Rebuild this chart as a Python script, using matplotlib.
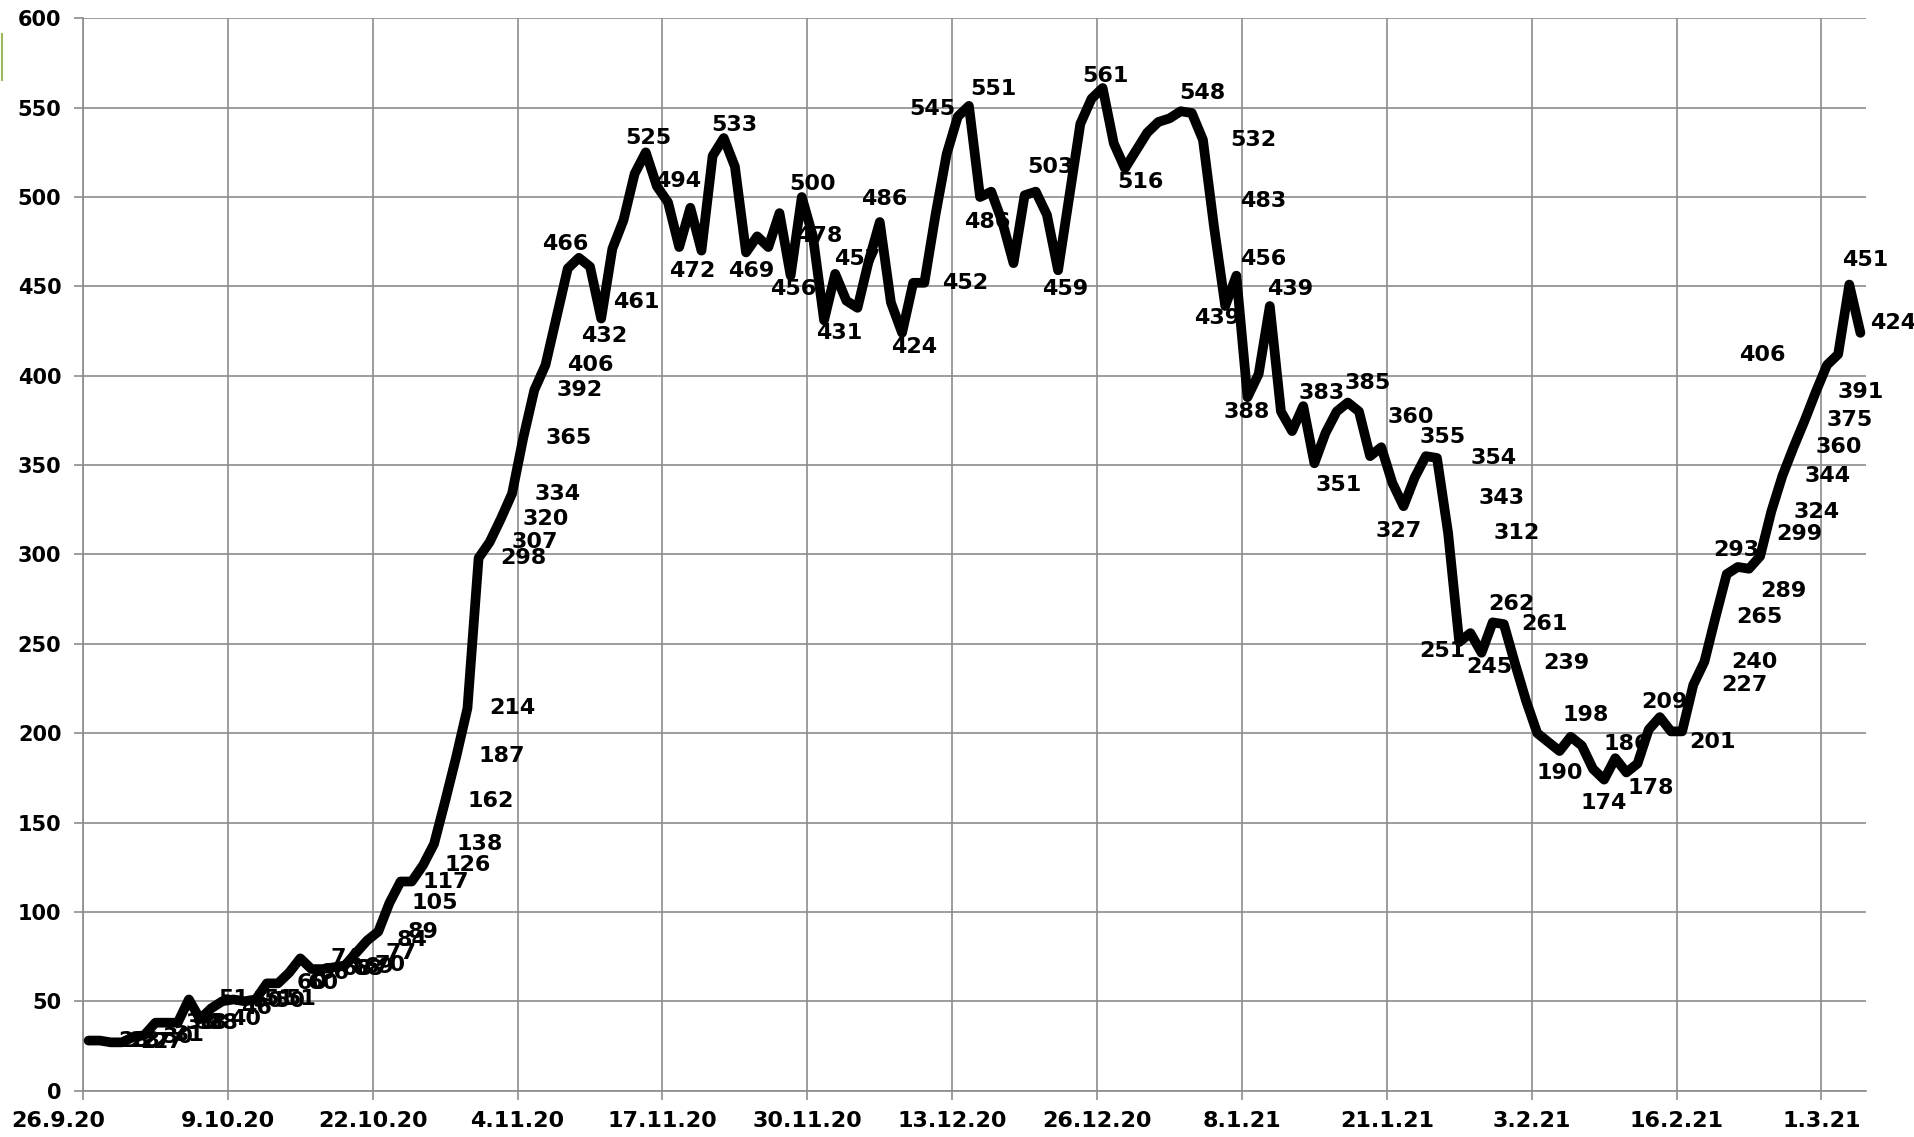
import pandas as pd
import matplotlib
matplotlib.use('Agg')
import matplotlib.pyplot as plt
import matplotlib.transforms as mtransforms
from matplotlib.lines import Line2D

plt.rcParams['font.family'] = ['DejaVu Sans']

# daily values from 26.9.20 to 4.3.21
start = '2020-09-26'
values = [
    28, 28, 27, 27, 30, 31, 38, 38, 38, 51,
    40, 46, 50, 51, 50, 51, 60, 60, 66, 74,
    68, 68, 69, 70, 77, 84, 89, 105, 117, 117,
    126, 138, 162, 187, 214, 298, 307, 320, 334, 365,
    392, 406, 433, 460, 466, 461, 432, 471, 487, 513,
    525, 506, 497, 472, 494, 470, 523, 533, 517, 469,
    478, 472, 491, 456, 500, 478, 431, 457, 442, 438,
    464, 486, 441, 424, 452, 452, 490, 524, 545, 551,
    500, 503, 486, 463, 501, 503, 490, 459, 500, 541,
    555, 561, 530, 516, 526, 536, 542, 544, 548, 547,
    532, 483, 439, 456, 388, 401, 439, 380, 369, 383,
    351, 368, 380, 385, 380, 355, 360, 340, 327, 343,
    355, 354, 312, 251, 256, 245, 262, 261, 239, 218,
    200, 195, 190, 198, 193, 180, 174, 186, 178, 183,
    202, 209, 201, 201, 227, 240, 265, 289, 293, 292,
    299, 324, 344, 360, 375, 391, 406, 412, 451, 424,
]
tick_labels = ['26.9.20', '9.10.20', '22.10.20', '4.11.20', '17.11.20', '30.11.20',
               '13.12.20', '26.12.20', '8.1.21', '21.1.21', '3.2.21', '16.2.21', '1.3.21']

# which points carry a value label
labelled = list(range(0, 27)) + [
    27, 28, 30, 31, 32, 33, 34, 35, 36, 37, 38, 39, 40, 41, 44, 45, 46, 50, 53, 54,
    57, 59, 63, 64, 65, 66, 67, 71, 73, 75, 78, 79, 82, 85, 87, 91, 93, 98, 100,
    101, 102, 103, 104, 106, 109, 110, 113, 116, 118, 119, 120, 121, 122, 123, 125,
    126, 127, 128, 132, 133, 136, 137, 138, 141, 143, 144, 145, 146, 147, 148, 150,
    151, 152, 153, 154, 155, 156, 158, 159]

# label placement (screen px, y down); default is to the right of the point
label_pos = {
    44: (-11, -11), 45: (38, 29), 46: (2, 14), 50: (2, -12), 53: (11, 20),
    54: (-10, -22), 57: (9, -11), 59: (4, 15), 63: (2, 11), 64: (9, -11),
    65: (5, 0), 66: (12, 10), 67: (18, -12), 71: (4, -19), 73: (10, 12),
    75: (33, 0), 78: (-21, -6), 79: (20, -14), 82: (-12, 0), 85: (12, -20),
    87: (6, 15), 91: (2, -10), 93: (13, 11), 98: (18, -15), 100: (41, 0),
    101: (40, -22), 102: (-7, 10), 103: (22, -14), 104: (-1, 12), 106: (17, -14),
    109: (15, -11), 110: (20, 18), 113: (16, -16), 116: (24, -25), 118: (-4, 20),
    119: (71, 17), 120: (14, -16), 121: (46, 0), 122: (56, 0), 123: (-14, 7),
    125: (6, 12), 126: (15, -15), 127: (33, 0), 128: (42, 0), 132: (0, 18),
    133: (12, -18), 136: (0, 19), 137: (9, -12), 138: (20, 13), 141: (4, -12),
    143: (25, 9), 144: (42, 0), 145: (41, 0), 146: (36, 0), 147: (46, 14),
    148: (-1, -14), 150: (32, -18), 156: (-53, -8), 158: (13, -20), 159: (27, -8),
}
S = 1.2213

dates = pd.date_range(start, periods=len(values)) + pd.Timedelta(hours=12)
tick_dates = pd.date_range(start, periods=len(tick_labels), freq='13D')

fig = plt.figure(figsize=(19.15, 11.37), dpi=100)
ax = fig.add_axes([83 / 1915, 1 - 1090.6 / 1137, (1866 - 83) / 1915, (1090.6 - 18.3) / 1137])

ax.plot(dates, values, color='black', lw=7, solid_joinstyle='round',
        solid_capstyle='round', zorder=3)

for i in labelled:
    dx, dy = label_pos.get(i, (37, 0))
    ax.annotate(str(values[i]), (dates[i], values[i]), xytext=(dx * S, -dy * S),
                textcoords='offset pixels', ha='center', va='center',
                fontsize=16, fontweight='bold', color='black', zorder=2,
                annotation_clip=False)

ax.set_xlim(pd.Timestamp(start), pd.Timestamp('2021-03-05'))
ax.set_ylim(0, 600)
ax.set_yticks(range(0, 601, 50))
ax.set_xticks(tick_dates)
ax.set_xticklabels(tick_labels)

gray = '#8c8c8c'
ax.grid(True, color=gray, lw=1.2)
ax.set_axisbelow(True)
for side in ['top', 'right']:
    ax.spines[side].set_visible(False)
for side in ['left', 'bottom']:
    ax.spines[side].set_color(gray)
    ax.spines[side].set_linewidth(1.2)
ax.tick_params(axis='both', direction='out', color=gray, width=1.2, length=6.5)
ax.tick_params(axis='y', pad=9, labelsize=15)
ax.tick_params(axis='x', pad=8, labelsize=16)
for lbl in ax.get_xticklabels() + ax.get_yticklabels():
    lbl.set_fontweight('bold')
# first date label sits shifted to the right, inside the figure
first = ax.get_xticklabels()[0]
first.set_transform(mtransforms.offset_copy(first.get_transform(), fig=fig,
                                            x=-25, y=0, units='dots'))

# small green mark at the left edge
fig.add_artist(Line2D([0.001, 0.001], [1 - 34 / 1137, 1 - 80 / 1137],
                      color='#9bbb59', lw=1.5))

fig.savefig('out.png', dpi=100)
